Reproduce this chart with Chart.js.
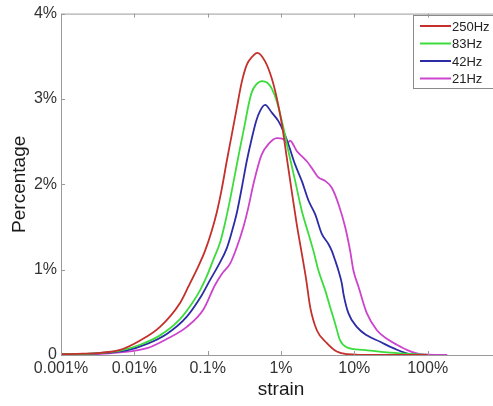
<!DOCTYPE html>
<html>
<head>
<meta charset="utf-8">
<script src="https://cdn.jsdelivr.net/npm/chart.js@4.4.1/dist/chart.umd.min.js"></script>
<style>
  html, body { margin: 0; padding: 0; background: #fff; overflow: hidden; }
  #wrap { width: 510px; height: 406px; }
</style>
</head>
<body>
<div id="wrap"><canvas id="mycanvas"></canvas></div>
<script>
// strain (%) and percentage (%) for each loading frequency
var strain250 = [0.001, 0.002, 0.0034, 0.0064, 0.012, 0.0224, 0.042, 0.0545, 0.071, 0.092, 0.114, 0.133, 0.156, 0.182, 0.213, 0.249, 0.292, 0.341, 0.40, 0.476, 0.607, 0.749, 0.877, 1.03, 1.20, 1.40, 1.64, 1.92, 2.2, 2.5, 3.08, 4.22, 5.77, 7.9, 20, 100];
var pct250    = [0.01, 0.015, 0.025, 0.06, 0.17, 0.33, 0.61, 0.80, 1.0, 1.22, 1.46, 1.67, 1.95, 2.27, 2.58, 2.89, 3.20, 3.40, 3.49, 3.54, 3.44, 3.24, 3.01, 2.70, 2.31, 1.92, 1.53, 1.19, 0.89, 0.56, 0.29, 0.14, 0.04, 0.01, 0, 0];

var strain83 = [0.001, 0.003, 0.0064, 0.012, 0.0224, 0.042, 0.063, 0.079, 0.097, 0.120, 0.148, 0.173, 0.202, 0.236, 0.277, 0.324, 0.359, 0.400, 0.46, 0.552, 0.65, 0.749, 0.877, 1.08, 1.26, 1.56, 1.92, 2.37, 2.77, 3.24, 4.0, 4.68, 5.47, 6.4, 7.9, 13.3, 27.8, 64, 100];
var pct83    = [0.01, 0.02, 0.05, 0.12, 0.23, 0.42, 0.62, 0.76, 0.92, 1.12, 1.32, 1.55, 1.82, 2.12, 2.43, 2.72, 2.92, 3.08, 3.17, 3.21, 3.19, 3.12, 2.97, 2.66, 2.39, 2.04, 1.69, 1.42, 1.22, 0.99, 0.76, 0.56, 0.37, 0.17, 0.09, 0.06, 0.03, 0.01, 0];

var strain42 = [0.001, 0.003, 0.0079, 0.0149, 0.028, 0.052, 0.083, 0.108, 0.140, 0.182, 0.213, 0.249, 0.292, 0.341, 0.400, 0.458, 0.519, 0.607, 0.749, 0.922, 1.08, 1.26, 1.56, 1.92, 2.37, 2.92, 3.60, 4.43, 4.93, 5.47, 6.07, 6.75, 7.1, 8.3, 10.8, 14.8, 22.5, 34, 57.7, 100];
var pct42    = [0.01, 0.02, 0.055, 0.13, 0.25, 0.45, 0.70, 0.88, 1.05, 1.25, 1.44, 1.66, 1.96, 2.27, 2.54, 2.74, 2.86, 2.93, 2.84, 2.74, 2.62, 2.47, 2.23, 2.04, 1.81, 1.65, 1.42, 1.30, 1.22, 1.11, 0.99, 0.84, 0.72, 0.49, 0.33, 0.23, 0.155, 0.08, 0.01, 0];

var strain21 = [0.001, 0.003, 0.0064, 0.0149, 0.028, 0.052, 0.087, 0.126, 0.156, 0.202, 0.249, 0.307, 0.359, 0.420, 0.492, 0.547, 0.673, 0.877, 1.08, 1.2, 1.33, 1.64, 1.92, 2.25, 2.63, 3.24, 4.0, 4.93, 6.07, 7.5, 8.77, 9.72, 11.4, 14.8, 20.3, 27.8, 38, 52, 79, 185];
var pct21    = [0.005, 0.01, 0.03, 0.08, 0.19, 0.33, 0.53, 0.82, 0.95, 1.07, 1.26, 1.50, 1.73, 2.0, 2.23, 2.35, 2.47, 2.54, 2.53, 2.48, 2.51, 2.39, 2.33, 2.27, 2.19, 2.08, 2.04, 1.96, 1.77, 1.50, 1.22, 0.99, 0.80, 0.49, 0.29, 0.19, 0.12, 0.06, 0.01, 0];

var seriesNames  = ["250Hz", "83Hz", "42Hz", "21Hz"];
var seriesColors = ["#c4302c", "#3cdc3c", "#2c2ca6", "#cc44cc"];
var xTickValues = [0.001, 0.01, 0.1, 1, 10, 100];
var xTickLabels = ["0.001%", "0.01%", "0.1%", "1%", "10%", "100%"];
var yTickValues = [0, 1, 2, 3, 4];
var yTickLabels = ["0", "1%", "2%", "3%", "4%"];

function toPoints(xs, ys) {
  var pts = [];
  for (var i = 0; i < xs.length; i++) pts.push({ x: xs[i], y: ys[i] });
  return pts;
}

var allX = [strain250, strain83, strain42, strain21];
var allY = [pct250, pct83, pct42, pct21];
var datasets = [];
for (var s = 0; s < seriesNames.length; s++) {
  datasets.push({
    label: seriesNames[s],
    data: toPoints(allX[s], allY[s]),
    borderColor: seriesColors[s],
    borderWidth: 1.8,
    pointRadius: 0,
    cubicInterpolationMode: "monotone",
    fill: false
  });
}

var AXIS = "#9a9a9a";

// box + inward tick marks like a matlab plot
var axesFrame = {
  id: "axesFrame",
  afterDraw: function(chart) {
    var ctx = chart.ctx, a = chart.chartArea;
    var xs = chart.scales.x, ys = chart.scales.y;
    ctx.save();
    ctx.strokeStyle = AXIS;
    ctx.lineWidth = 1;
    ctx.beginPath();
    ctx.moveTo(a.right, a.top + 0.5); ctx.lineTo(a.left + 0.5, a.top + 0.5);
    ctx.lineTo(a.left + 0.5, a.bottom + 0.5); ctx.lineTo(a.right, a.bottom + 0.5);
    xTickValues.forEach(function(v) {
      var px = Math.round(xs.getPixelForValue(v)) + 0.5;
      ctx.moveTo(px, a.bottom); ctx.lineTo(px, a.bottom - 4);
      ctx.moveTo(px, a.top); ctx.lineTo(px, a.top + 4);
    });
    yTickValues.forEach(function(v) {
      var py = Math.round(ys.getPixelForValue(v)) + 0.5;
      ctx.moveTo(a.left, py); ctx.lineTo(a.left + 4, py);
    });
    ctx.stroke();
    ctx.restore();
  }
};

// legend box in the upper right corner of the plot
var boxLegend = {
  id: "boxLegend",
  afterDatasetsDraw: function(chart) {
    var ctx = chart.ctx;
    var bx = 413, by = 15, bw = 92, bh = 73, row = 17.5;
    ctx.save();
    ctx.fillStyle = "#fff";
    ctx.fillRect(bx, by, bw, bh);
    ctx.strokeStyle = "#8a8a8a";
    ctx.lineWidth = 1;
    ctx.strokeRect(bx + 0.5, by + 0.5, bw, bh);
    ctx.font = "13px 'Liberation Sans', Arial, sans-serif";
    ctx.textBaseline = "middle";
    chart.data.datasets.forEach(function(ds, i) {
      var cy = by + 11 + i * row;
      ctx.strokeStyle = ds.borderColor;
      ctx.lineWidth = 2;
      ctx.beginPath();
      ctx.moveTo(bx + 7, cy); ctx.lineTo(bx + 38, cy);
      ctx.stroke();
      ctx.fillStyle = "#222";
      ctx.fillText(ds.label, bx + 39, cy + 1);
    });
    ctx.restore();
  }
};

var tickFont = { family: "'Liberation Sans', Arial, sans-serif", size: 16 };
var titleFont = { family: "'Liberation Sans', Arial, sans-serif", size: 19 };

var ctx = document.getElementById("mycanvas");
var chart = new Chart(ctx, {
  type: "line",
  data: { datasets: datasets },
  plugins: [axesFrame, boxLegend],
  options: {
    responsive: true,
    maintainAspectRatio: false,
    animation: false,
    layout: { padding: { top: 12, right: 9, bottom: 0, left: 0 } },
    plugins: { legend: { display: false }, tooltip: { enabled: false } },
    scales: {
      x: {
        type: "logarithmic",
        min: 0.001,
        max: 1000,
        afterBuildTicks: function(scale) {
          scale.ticks = xTickValues.map(function(v) { return { value: v }; });
        },
        afterFit: function(scale) { scale.height = 51; },
        grid: { display: false, drawTicks: false },
        border: { display: false },
        ticks: {
          padding: 4,
          color: "#333",
          font: tickFont,
          maxRotation: 0,
          autoSkip: false,
          callback: function(v) {
            var i = xTickValues.indexOf(v);
            return i >= 0 ? xTickLabels[i] : "";
          }
        },
        title: { display: true, text: "strain", color: "#1a1a1a", font: titleFont, padding: { top: 0, bottom: 5 } }
      },
      y: {
        min: 0,
        max: 4,
        afterBuildTicks: function(scale) {
          scale.ticks = yTickValues.map(function(v) { return { value: v }; });
        },
        afterFit: function(scale) { scale.width = 61; },
        grid: { display: false, drawTicks: false },
        border: { display: false },
        ticks: {
          padding: 4,
          color: "#333",
          font: tickFont,
          callback: function(v) {
            var i = yTickValues.indexOf(v);
            return i >= 0 ? yTickLabels[i] : "";
          }
        },
        title: { display: true, text: "Percentage", color: "#1a1a1a", font: titleFont, padding: { top: 8, bottom: 0 } }
      }
    }
  }
});
</script>
</body>
</html>
